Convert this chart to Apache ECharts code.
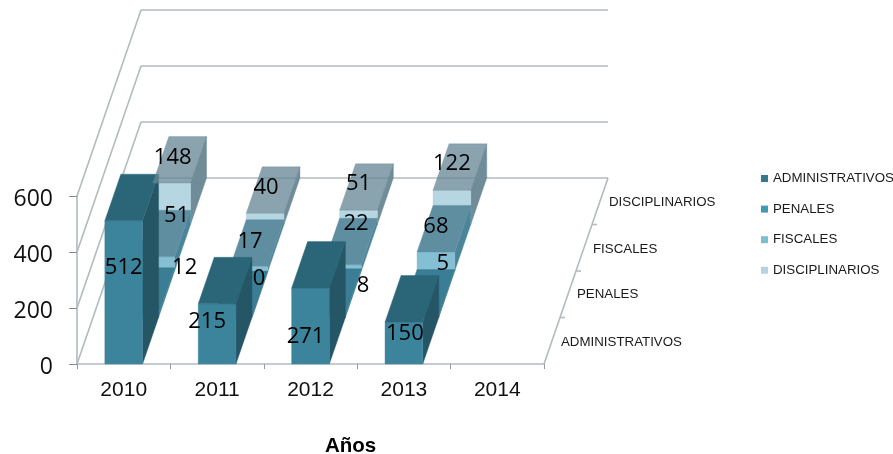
<!DOCTYPE html>
<html>
<head>
<meta charset="utf-8">
<style>html,body{margin:0;padding:0;background:#fff}#c{width:893px;height:454px}</style>
<script src="https://cdn.jsdelivr.net/npm/echarts@6/dist/echarts.min.js"></script>
</head>
<body>
<div id="c"></div>
<script>
const years = ['2010', '2011', '2012', '2013', '2014'];
const yTicks = [0, 200, 400, 600];
const rowNames = ['ADMINISTRATIVOS', 'PENALES', 'FISCALES', 'DISCIPLINARIOS'];
const administrativos = [512, 215, 271, 150, null];
const penales = [12, 0, 8, 5, null];
const fiscales = [51, 17, 22, 68, null];
const disciplinarios = [148, 40, 51, 122, null];
const rowValues = [administrativos, penales, fiscales, disciplinarios];

// Oblique projection of the depth axis and face colours
const STEP_X = 16, STEP_Y = 46.5, ROWS = 4, COL_RATIO = 0.404;
const GRID_COL = '#B2BBBE';
const legendColors = ['#35798F', '#409AB6', '#7FBDD3', '#B5D3E0'];
const faces = [
  { front: '#3B849C', top: '#2B6678', side: '#245665' },
  { front: '#409AB6', top: '#3A7D94', side: '#3C7E93' },
  { front: '#84BFD4', top: '#5F8EA1', side: '#4B8599' },
  { front: '#B6D6E2', top: 'rgba(100,134,149,0.755)', side: '#6F8C98' }
];
// label nudges [dx, dy] from the centre of each column's front top edge, per row and year
const labelNudge = [
  [[0, 47], [-10, 18], [-5, 49], [1, 12]],
  [[45, -46], [26, -38.5], [36.5, -30], [23, -52]],
  [[21, -41], [1, -25], [13.5, -41], [0, -25]],
  [[1, -25], [1, -26], [0, -26], [0, -27]]
];
const depthLabelDy = [-22, -23.5, -22, -22.5];

function poly(pts, fill) {
  return { type: 'polygon', shape: { points: pts }, style: { fill: fill, stroke: fill, lineWidth: 0.4 } };
}
function colBox(api, row) {
  const i = api.value(0), v = api.value(1);
  const b = api.coord([i, 0]), t = api.coord([i, v]);
  const w = api.size([1, 0])[0] * COL_RATIO;
  const ox = STEP_X * row, oy = STEP_Y * row;
  return { l: b[0] - w / 2 + ox, r: b[0] + w / 2 + ox, by: b[1] - oy, ty: t[1] - oy };
}
function renderCol(row, parts) {
  return function (params, api) {
    if (api.value(1) == null || isNaN(api.value(1))) return null;
    const c = colBox(api, row), f = faces[row], ch = [];
    if (parts.side) ch.push(poly([[c.r, c.by], [c.r + STEP_X, c.by - STEP_Y], [c.r + STEP_X, c.ty - STEP_Y], [c.r, c.ty]], f.side));
    if (parts.front) ch.push(poly([[c.l, c.by], [c.r, c.by], [c.r, c.ty], [c.l, c.ty]], f.front));
    if (parts.top) ch.push(poly([[c.l, c.ty], [c.r, c.ty], [c.r + STEP_X, c.ty - STEP_Y], [c.l + STEP_X, c.ty - STEP_Y]], f.top));
    return { type: 'group', children: ch };
  };
}
const dataFor = arr => arr.map((v, i) => [i, v]);

const series = [];
// walls + floor
series.push({
  type: 'custom', name: 'walls', coordinateSystem: 'cartesian2d', silent: true, z: 1,
  data: yTicks.map(v => [0, v]),
  encode: { x: 0, y: 1 },
  renderItem(params, api) {
    const v = api.value(1), n = years.length;
    const a = api.coord([0, v]), w = api.size([1, 0])[0];
    const x0 = a[0] - w / 2, y = a[1], xe = x0 + w * n;
    const dx = STEP_X * ROWS, dy = STEP_Y * ROWS;
    const line = (x1, y1, x2, y2) => ({ type: 'line', shape: { x1, y1, x2, y2 }, style: { stroke: GRID_COL, lineWidth: 1.6 } });
    const ch = [line(x0, y, x0 + dx, y - dy), line(x0 + dx, y - dy, xe + dx, y - dy)];
    if (v === 0) {
      ch.push(line(xe, y, xe + dx, y - dy));
      for (let r = 1; r < ROWS; r++) {
        const px = xe + STEP_X * r, py = y - STEP_Y * r;
        ch.push(line(px, py, px + 5, py));
      }
    }
    return { type: 'group', children: ch };
  }
});
// depth-axis names
series.push({
  type: 'custom', name: 'depthNames', coordinateSystem: 'cartesian2d', silent: true, z: 1,
  data: rowNames.map((n, r) => [4, 0, r]),
  renderItem(params, api) {
    const r = api.value(2);
    const a = api.coord([4, 0]), w = api.size([1, 0])[0];
    const xe = a[0] + w / 2;
    return {
      type: 'text',
      style: {
        x: xe + 17 + STEP_X * r, y: a[1] + depthLabelDy[r] - STEP_Y * r, text: rowNames[r],
        fill: '#1a1a1a', font: '13.3px "Liberation Sans"', align: 'left', verticalAlign: 'middle'
      }
    };
  }
});
// columns, back row first
for (let r = ROWS - 1; r >= 0; r--) {
  series.push({
    type: 'custom', name: rowNames[r], coordinateSystem: 'cartesian2d', silent: true, z: 10 + (ROWS - r),
    itemStyle: { color: legendColors[r] },
    data: dataFor(rowValues[r]),
    encode: { x: 0, y: 1 },
    renderItem: renderCol(r, r === ROWS - 1 ? { side: true, front: true } : { side: true, front: true, top: true })
  });
}
// the translucent top of the back row lies over the front rows
series.push({
  type: 'custom', name: 'backTop', coordinateSystem: 'cartesian2d', silent: true, z: 20,
  data: dataFor(disciplinarios),
  encode: { x: 0, y: 1 },
  renderItem: renderCol(ROWS - 1, { top: true })
});
// data labels
for (let r = 0; r < ROWS; r++) {
  series.push({
    type: 'custom', name: 'labels' + r, coordinateSystem: 'cartesian2d', silent: true, z: 30,
    data: dataFor(rowValues[r]),
    encode: { x: 0, y: 1 },
    renderItem(params, api) {
      if (api.value(1) == null || isNaN(api.value(1))) return null;
      const c = colBox(api, r), n = labelNudge[r][params.dataIndex];
      return {
        type: 'text',
        style: {
          x: (c.l + c.r) / 2 + n[0], y: c.ty + n[1], text: String(api.value(1)),
          fill: '#000', font: '22px "Open Sans"', align: 'center', verticalAlign: 'middle'
        }
      };
    }
  });
}

const chart = echarts.init(document.getElementById('c'), null, { renderer: 'canvas' });
chart.setOption({
  animation: false,
  backgroundColor: '#fff',
  title: {
    text: 'Años', left: 325, top: 436, padding: 0,
    textStyle: { fontFamily: 'Liberation Sans', fontWeight: 'bold', fontSize: 20.5, color: '#000' }
  },
  grid: { left: 77, right: 349, top: 196, bottom: 90, outerBoundsMode: 'none' },
  legend: {
    data: rowNames, orient: 'vertical', left: 761, top: 172, padding: 0, itemWidth: 7, itemHeight: 7, itemGap: 17.6,
    icon: 'rect', selectedMode: false,
    textStyle: { fontFamily: 'Liberation Sans', fontSize: 13.3, color: '#1a1a1a' }, itemStyle: { borderWidth: 0 }
  },
  xAxis: {
    type: 'category', data: years, boundaryGap: true,
    axisLine: { show: true, lineStyle: { color: GRID_COL, width: 1.6 } },
    axisTick: { show: true, length: 5, lineStyle: { color: '#999', width: 1 } },
    axisLabel: { margin: 16, fontFamily: 'Liberation Sans', fontSize: 21, color: '#111' },
    splitLine: { show: false }
  },
  yAxis: {
    type: 'value', min: 0, max: 600, interval: 200,
    axisLine: { show: true, lineStyle: { color: GRID_COL, width: 1.6 } },
    axisTick: { show: true, length: 8, lineStyle: { color: '#8c8c8c', width: 1 } },
    axisLabel: { margin: 24, verticalAlign: 'top', lineHeight: 6, fontFamily: 'Open Sans', fontSize: 23, color: '#111' },
    splitLine: { show: false }
  },
  series: series
});
</script>
</body>
</html>
